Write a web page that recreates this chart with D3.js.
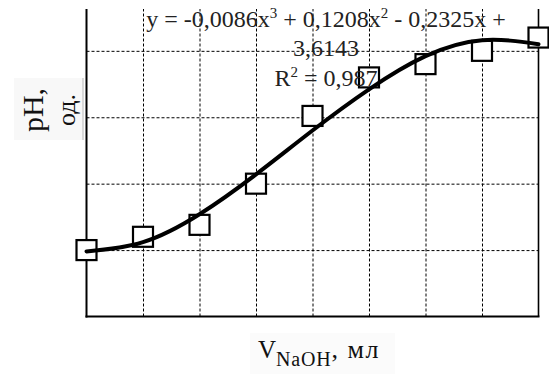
<!DOCTYPE html>
<html>
<head>
<meta charset="utf-8">
<script src="https://cdn.jsdelivr.net/npm/d3@7"></script>
<style>
  body { margin: 0; background: #fff; }
  svg { display: block; }
  text { font-family: "Liberation Serif", "Times New Roman", serif; }
</style>
</head>
<body>
<div id="chart"></div>
<script>
// measured points (x = step number, pH)
var steps    = [1, 2, 3, 4, 5, 6, 7, 8, 9];
var phValues = [3.50, 3.60, 3.69, 4.00, 4.51, 4.80, 4.90, 5.00, 5.10];
// trend line at each step
var trendValues = [3.49, 3.56, 3.77, 4.07, 4.40, 4.71, 4.96, 5.08, 5.05];
var xGrid = [2, 3, 4, 5, 6, 7, 8];
var yGrid = [3.5, 4.0, 4.5, 5.0];
var eqLine1 = ["y = -0,0086x", "3", " + 0,1208x", "2", " - 0,2325x +"];
var eqLine2 = "3,6143";
var eqLine3 = ["R", "2", " = 0,987"];

var W = 549, H = 374;
var plotL = 86.5, plotR = 538.5, plotT = 9, plotB = 316.5;

var svg = d3.select("#chart").append("svg")
    .attr("width", W)
    .attr("height", H);

var x = d3.scaleLinear().domain([1, 9]).range([plotL, plotR]);
var y = d3.scaleLinear().domain([3, 5.315]).range([plotB, plotT]);

// label background (faint box in the scan)
svg.append("rect")
    .attr("x", 14).attr("y", 78).attr("width", 69).attr("height", 62)
    .attr("fill", "#f8f8f8");
svg.append("line")
    .attr("x1", 83).attr("x2", 83).attr("y1", 78).attr("y2", 140)
    .attr("stroke", "#b8b8b8").attr("stroke-width", 1);
svg.append("rect")
    .attr("x", 250).attr("y", 333).attr("width", 145).attr("height", 41)
    .attr("fill", "#fbfbfb");

// dashed grid
svg.append("g")
    .attr("transform", "translate(0," + plotB + ")")
    .call(d3.axisBottom(x).tickValues(xGrid).tickSize(-(plotB - plotT)).tickFormat(""))
    .call(function(g) { g.select(".domain").remove(); })
    .selectAll("line")
    .attr("stroke", "#000")
    .attr("stroke-width", 1)
    .attr("stroke-dasharray", "3,2");

svg.append("g")
    .attr("transform", "translate(" + plotL + ",0)")
    .call(d3.axisLeft(y).tickValues(yGrid).tickSize(-(plotR - plotL)).tickFormat(""))
    .call(function(g) { g.select(".domain").remove(); })
    .selectAll("line")
    .attr("stroke", "#000")
    .attr("stroke-width", 1)
    .attr("stroke-dasharray", "3,2");

// frame
svg.append("line")
    .attr("x1", plotL).attr("x2", plotL).attr("y1", plotT).attr("y2", plotB + 1)
    .attr("stroke", "#000").attr("stroke-width", 2);
svg.append("line")
    .attr("x1", plotL - 1).attr("x2", plotR + 1).attr("y1", plotB).attr("y2", plotB)
    .attr("stroke", "#000").attr("stroke-width", 2);
svg.append("line")
    .attr("x1", plotR).attr("x2", plotR).attr("y1", plotT).attr("y2", plotB)
    .attr("stroke", "#000").attr("stroke-width", 1.6);

// markers
var size = 20;
svg.selectAll(".pt")
    .data(steps)
    .enter().append("rect")
    .attr("class", "pt")
    .attr("x", function(d) { return x(d) - size / 2; })
    .attr("y", function(d, i) { return y(phValues[i]) - size / 2; })
    .attr("width", size)
    .attr("height", size)
    .attr("fill", "#fff")
    .attr("stroke", "#000")
    .attr("stroke-width", 2.2);

// trend line
var line = d3.line()
    .x(function(d) { return x(d); })
    .y(function(d, i) { return y(trendValues[i]); })
    .curve(d3.curveNatural);

svg.append("path")
    .attr("d", line(steps))
    .attr("fill", "none")
    .attr("stroke", "#000")
    .attr("stroke-width", 4)
    .attr("stroke-linecap", "round");

// equation
var cx = 326;
var t1 = svg.append("text")
    .attr("x", cx).attr("y", 27)
    .attr("text-anchor", "middle")
    .attr("font-size", 24)
    .attr("fill", "#222");
eqLine1.forEach(function(s, i) {
    var sup = (i % 2 === 1);
    t1.append("tspan")
        .attr("font-size", sup ? 15 : 24)
        .attr("dy", sup ? -9 : (i > 0 ? 9 : 0))
        .text(s);
});
svg.append("text")
    .attr("x", cx).attr("y", 56)
    .attr("text-anchor", "middle")
    .attr("font-size", 24)
    .attr("fill", "#222")
    .text(eqLine2);
var t3 = svg.append("text")
    .attr("x", cx).attr("y", 86)
    .attr("text-anchor", "middle")
    .attr("font-size", 24)
    .attr("fill", "#222");
eqLine3.forEach(function(s, i) {
    var sup = (i === 1);
    t3.append("tspan")
        .attr("font-size", sup ? 15 : 24)
        .attr("dy", sup ? -9 : (i > 0 ? 9 : 0))
        .text(s);
});

// axis titles
svg.append("text")
    .attr("transform", "translate(43,110) rotate(-90)")
    .attr("text-anchor", "middle")
    .attr("font-size", 30)
    .attr("fill", "#111")
    .text("pH,");
svg.append("text")
    .attr("transform", "translate(75,110) rotate(-90)")
    .attr("text-anchor", "middle")
    .attr("font-size", 26)
    .attr("fill", "#111")
    .text("од.");

var xl = svg.append("text")
    .attr("x", 258).attr("y", 358)
    .attr("font-size", 25)
    .attr("fill", "#111");
xl.append("tspan").text("V");
xl.append("tspan").attr("font-size", 20).attr("dy", 8).attr("letter-spacing", 0.8).text("NaOH");
xl.append("tspan").attr("dy", -8).attr("font-size", 26).attr("letter-spacing", 1.5).text(", мл");
</script>
</body>
</html>
